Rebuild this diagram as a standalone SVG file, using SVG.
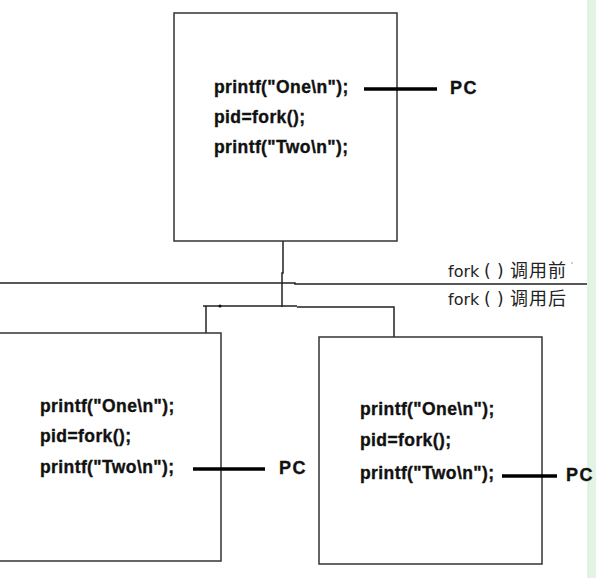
<svg xmlns="http://www.w3.org/2000/svg" width="596" height="578" viewBox="0 0 596 578">
  <style>
    .box { fill: #ffffff; stroke: #333333; stroke-width: 1.5; }
    .wire { fill: none; stroke: #222222; stroke-width: 1.5; }
    .pc-line { stroke: #000000; stroke-width: 3.5; }
    .code { font-family: "Liberation Sans", Arial, sans-serif; font-weight: bold; font-size: 17.5px; letter-spacing: 0.4px; fill: #111111; stroke: #111111; stroke-width: 0.35; }
    .pc { font-family: "Liberation Sans", Arial, sans-serif; font-weight: bold; font-size: 18px; letter-spacing: 1.5px; fill: #111111; stroke: #111111; stroke-width: 0.35; }
    .phase { font-family: "DejaVu Sans", "Noto Sans CJK SC", sans-serif; font-size: 16px; fill: #222222; }
    .phase .paren { font-family: "DejaVu Sans", sans-serif; font-size: 17px; }
    .phase .cjk { font-family: "Noto Sans CJK SC", sans-serif; font-size: 18px; }
  </style>

  <!-- page edge strip -->
  <rect x="588" y="0" width="8" height="578" fill="#e4f4e4"/>
  <line x1="588" y1="0" x2="588" y2="578" stroke="#cfeccf" stroke-width="1"/>

  <!-- connectors -->
  <g id="connectors">
    <!-- parent stem down to the fork split -->
    <polyline class="wire" points="283,241 283,273 282,273 282,307"/>
    <!-- before / after divider -->
    <polyline class="wire" points="0,283 295,283 295,284 587,284"/>
    <!-- branch to the left child -->
    <polyline class="wire" points="203,306 297,306"/>
    <line class="wire" x1="206" y1="306" x2="206" y2="333"/>
    <circle cx="220" cy="306" r="1.6" fill="#111111"/>
    <!-- branch to the right child -->
    <polyline class="wire" points="297,307 394,307 394,337"/>
  </g>

  <!-- phase labels -->
  <g id="label-before">
    <text class="phase" y="277"><tspan x="448">fork</tspan><tspan class="paren" x="484">(</tspan><tspan class="paren" x="497">)</tspan><tspan class="cjk" x="510">调</tspan><tspan class="cjk" x="529">用</tspan><tspan class="cjk" x="548">前</tspan></text>
    <circle cx="572" cy="263" r="0.7" fill="#777777"/>
  </g>
  <g id="label-after">
    <text class="phase" y="305"><tspan x="448">fork</tspan><tspan class="paren" x="484">(</tspan><tspan class="paren" x="497">)</tspan><tspan class="cjk" x="510">调</tspan><tspan class="cjk" x="529">用</tspan><tspan class="cjk" x="548">后</tspan></text>
  </g>

  <!-- parent process, before the call -->
  <g id="parent">
    <rect class="box" x="174" y="13" width="223" height="228"/>
    <text class="code" x="214" y="93">printf("One\n");</text>
    <text class="code" x="214" y="123">pid=fork();</text>
    <text class="code" x="214" y="153">printf("Two\n");</text>
    <line class="pc-line" x1="364" y1="89" x2="437" y2="89"/>
    <text class="pc" x="450" y="94">PC</text>
  </g>

  <!-- parent process, after the call -->
  <g id="child-left">
    <rect class="box" x="-2" y="333" width="223" height="228"/>
    <text class="code" x="40" y="412">printf("One\n");</text>
    <text class="code" x="40" y="442">pid=fork();</text>
    <text class="code" x="40" y="473">printf("Two\n");</text>
    <line class="pc-line" x1="193" y1="469" x2="265" y2="469"/>
    <text class="pc" x="279" y="474">PC</text>
  </g>

  <!-- child process, after the call -->
  <g id="child-right">
    <rect class="box" x="319" y="337" width="223" height="227"/>
    <text class="code" x="360" y="415">printf("One\n");</text>
    <text class="code" x="360" y="446">pid=fork();</text>
    <text class="code" x="360" y="479">printf("Two\n");</text>
    <line class="pc-line" x1="502" y1="476" x2="557" y2="476"/>
    <text class="pc" x="566" y="481">PC</text>
  </g>
</svg>
